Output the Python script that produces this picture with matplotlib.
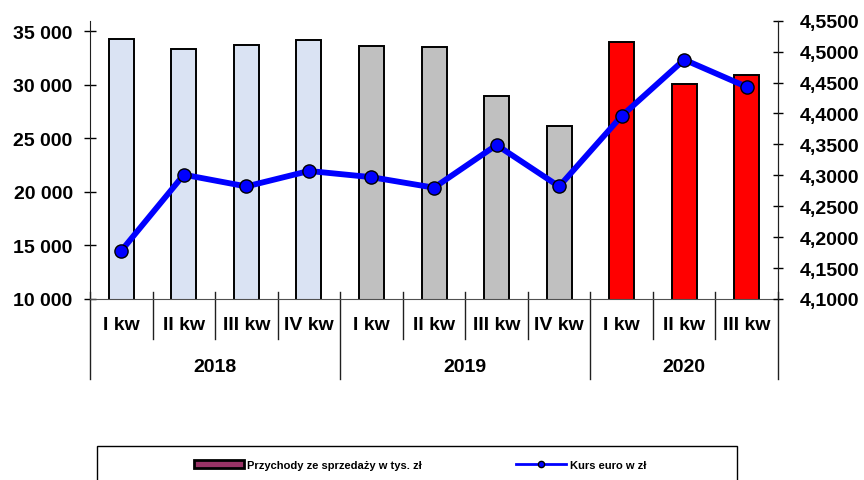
import matplotlib
matplotlib.use("Agg")
import matplotlib.pyplot as plt
from matplotlib.patches import Patch, Rectangle
from matplotlib.lines import Line2D
from matplotlib.ticker import FixedLocator, FuncFormatter

plt.rcParams['font.family'] = ['Liberation Sans', 'DejaVu Sans']
plt.rcParams['font.weight'] = 'bold'

# data
years = ["2018", "2019", "2020"]
quarters = ["I kw", "II kw", "III kw", "IV kw",
            "I kw", "II kw", "III kw", "IV kw",
            "I kw", "II kw", "III kw"]
quarter_year = [0, 0, 0, 0, 1, 1, 1, 1, 2, 2, 2]
revenue = [34300, 33400, 33700, 34150, 33600, 33550, 29000, 26150, 34000, 30100, 30900]
euro_rate = [4.178, 4.301, 4.282, 4.307, 4.297, 4.280, 4.349, 4.282, 4.396, 4.487, 4.443]
year_colors = ["#DAE3F3", "#C0C0C0", "#FF0000"]

fig = plt.figure(figsize=(8.64, 4.81), dpi=100)
ax = fig.add_axes([0.1042, 0.3763, 0.7963, 0.5786])
ax2 = ax.twinx()

x = list(range(len(revenue)))
bar_colors = [year_colors[i] for i in quarter_year]
ax.bar(x, revenue, width=0.4, color=bar_colors, edgecolor="black", linewidth=1.4, zorder=2)

ax.set_xlim(-0.5, len(revenue) - 0.5)
ax.set_ylim(10000, 36000)
ax.yaxis.set_major_locator(FixedLocator(range(10000, 35001, 5000)))
ax.yaxis.set_major_formatter(FuncFormatter(lambda v, p: f"{int(v):,}".replace(",", " ")))
ax.tick_params(axis="y", direction="inout", length=9, width=1, pad=8, labelsize=14)
ax.set_xticks([])

ax2.plot(x, euro_rate, color="#0000FF", linewidth=4.2, marker="o", markersize=9.5,
         markerfacecolor="#0000FF", markeredgecolor="black", markeredgewidth=1, zorder=3)
ax2.set_ylim(4.10, 4.55)
ax2.yaxis.set_major_locator(FixedLocator([4.10 + 0.05 * i for i in range(10)]))
ax2.yaxis.set_major_formatter(FuncFormatter(lambda v, p: f"{v:.4f}".replace(".", ",")))
ax2.tick_params(axis="y", direction="inout", length=7, width=1, pad=12, labelsize=14)

for a in (ax, ax2):
    a.spines["top"].set_visible(False)
    a.spines["left"].set_color("#202020")
    a.spines["right"].set_color("#202020")
    a.spines["bottom"].set_color("#505050")
ax2.spines["left"].set_visible(False)
ax2.spines["bottom"].set_visible(False)

# category axis: quarter labels, year labels and separator lines
trans = ax.get_xaxis_transform()
for i, q in enumerate(quarters):
    ax.text(i, -0.093, q, transform=trans, ha="center", va="center", fontsize=14, fontweight="bold")
for b in range(len(quarters) + 1):
    xb = b - 0.5
    is_year_edge = b == 0 or b == len(quarters) or quarter_year[b] != quarter_year[b - 1]
    y_end = -0.287 if is_year_edge else -0.144
    ax.plot([xb, xb], [0.025, y_end], transform=trans, color="#202020", linewidth=1, clip_on=False)
for k, yr in enumerate(years):
    idx = [i for i, q in enumerate(quarter_year) if q == k]
    ax.text((idx[0] + idx[-1]) / 2, -0.241, yr, transform=trans, ha="center", va="center",
            fontsize=14, fontweight="bold")

# legend box at the bottom (cut off by the figure edge, as in the source)
fig.patches.append(Rectangle((97 / 864, -0.05), 640 / 864, 0.1207, transform=fig.transFigure,
                             facecolor="white", edgecolor="black", linewidth=1, clip_on=False))
handles = [
    Patch(facecolor="#993366", edgecolor="black", linewidth=2),
    Line2D([], [], color="#0000FF", linewidth=2, marker="o", markersize=4.5,
           markerfacecolor="#0000FF", markeredgecolor="black"),
]
labels = ["Przychody ze sprzedaży w tys. zł", "Kurs euro w zł"]
fig.legend(handles, labels, loc="center", bbox_to_anchor=(420 / 864, 1 - 466 / 481), ncol=2,
           frameon=False, prop={"size": 8, "weight": "bold"}, handlelength=4.5, handleheight=0.65,
           handletextpad=0.3, columnspacing=8.5)

fig.savefig("out.png", dpi=100)
